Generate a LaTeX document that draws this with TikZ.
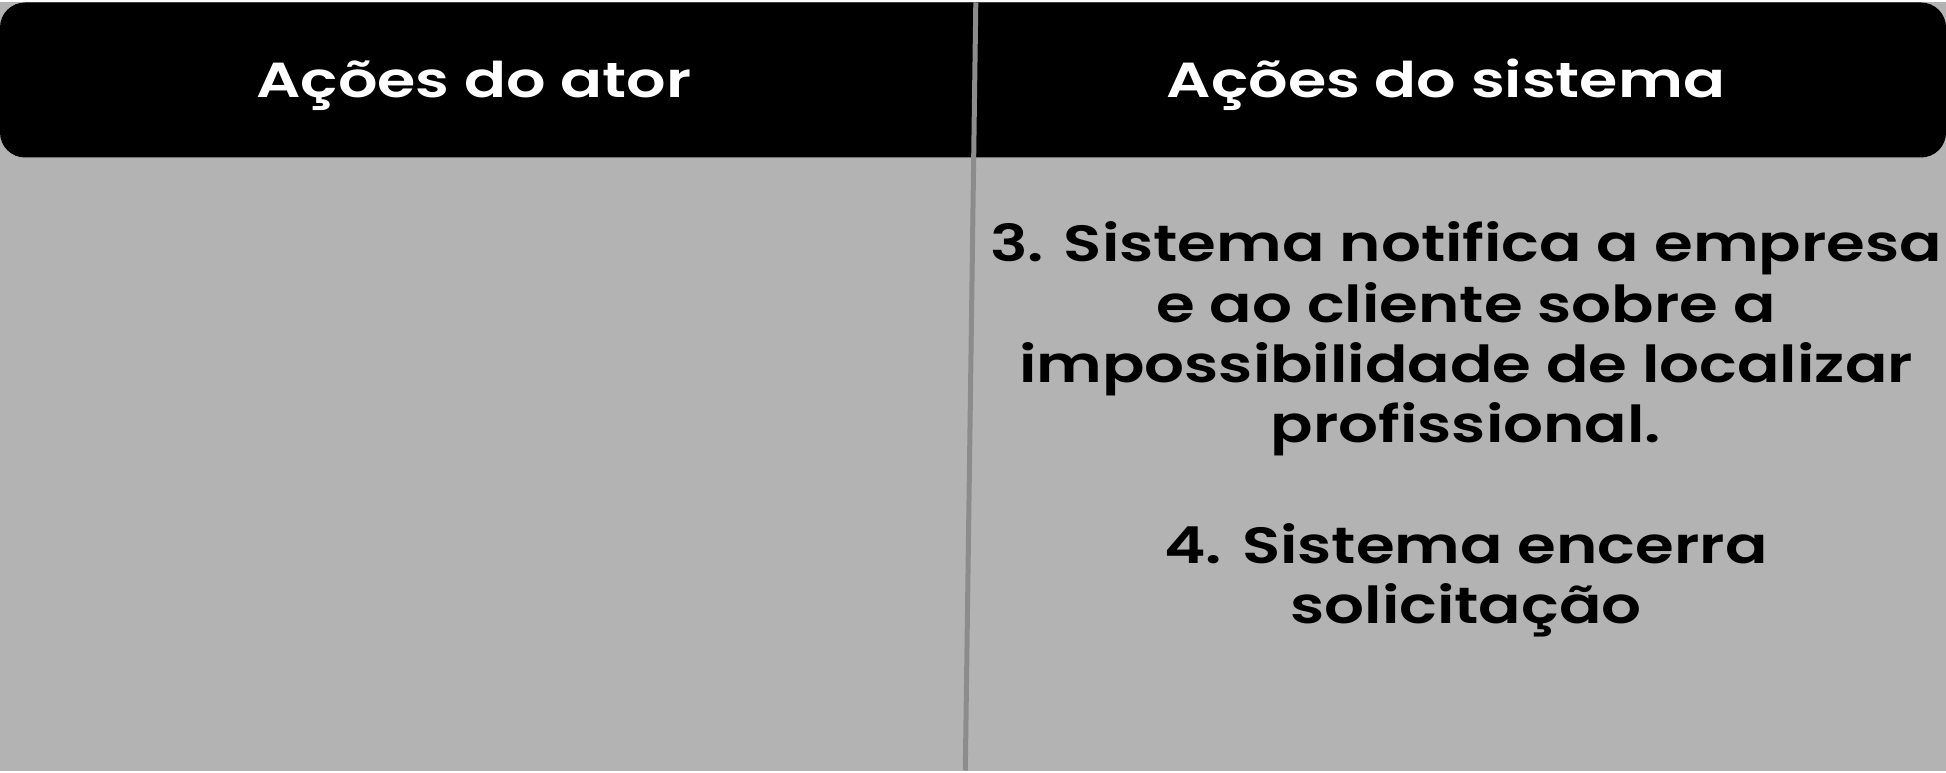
\documentclass[tikz,border=0pt]{standalone}
\usepackage{fontspec}
\setmainfont{Poppins}[BoldFont={Poppins SemiBold}]
\newfontfamily\headfont{Poppins}[FakeStretch=1.26, BoldFont={Poppins SemiBold}]
\newfontfamily\stepfont{Poppins}[FakeStretch=1.23, BoldFont={Poppins SemiBold}]
\definecolor{panelgray}{HTML}{B3B3B3}
\definecolor{divgray}{HTML}{8C8C8C}

\begin{document}
\begin{tikzpicture}[
    x=0.02cm, y=-0.02cm,
    header/.style={text=white, font=\headfont\fontsize{28}{32}\selectfont\bfseries, inner sep=0pt, anchor=base},
    step text/.style={text=black, font=\stepfont\fontsize{29}{34.3}\selectfont\bfseries, align=center, inner sep=0pt, anchor=north},
    divider/.style={draw=divgray, line width=0.1cm}
]
    \fill[panelgray] (0,0) rectangle (1946,768);
    \fill[black, rounded corners=0.5cm] (0,0) rectangle (1946,155);

    \node[header] (actor) at (474,95) {Ações do ator};
    \node[header] (system) at (1446,95) {Ações do sistema};

    \node[step text] (steps) at (1466,219) {3. Sistema notifica a empresa\\e ao cliente sobre a\\impossibilidade de localizar\\profissional.\\[34.3pt]4. Sistema encerra\\solicitação};

    \coordinate (divtop) at (975.8,0);
    \coordinate (divbot) at (965.3,768);
    \draw[divider] (divtop) -- (divbot);
\end{tikzpicture}
\end{document}
